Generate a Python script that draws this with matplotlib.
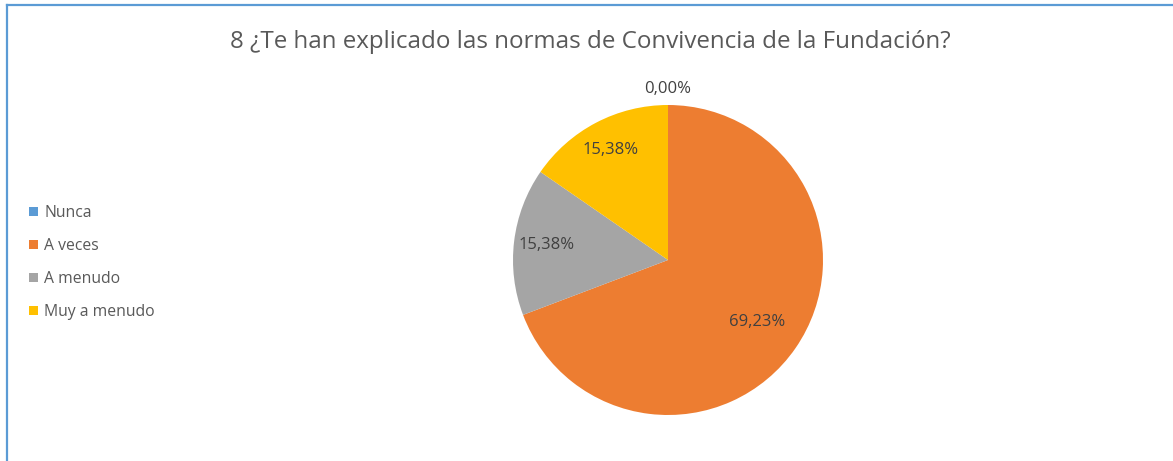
import numpy as np
import matplotlib.pyplot as plt
from matplotlib.lines import Line2D

plt.rcParams["font.family"] = ["Open Sans", "DejaVu Sans"]

categories = ["Nunca", "A veces", "A menudo", "Muy a menudo"]
values = [0.00, 69.23, 15.38, 15.38]
colors = ["#5B9BD5", "#ED7D31", "#A5A5A5", "#FFC000"]
title = "8 ¿Te han explicado las normas de Convivencia de la Fundación?"

W, H = 1173, 461
fig = plt.figure(figsize=(W / 100, H / 100), dpi=100)

# pie centered at (668, 260) px, radius 155 px
cx, cy, r = 668, 260, 155
ax = fig.add_axes([(cx - r) / W, (H - cy - r) / H, 2 * r / W, 2 * r / H])
wedges, _ = ax.pie(
    values,
    colors=colors,
    startangle=90,
    counterclock=False,
    radius=1,
    wedgeprops={"linewidth": 0},
)
ax.set_xlim(-1, 1)
ax.set_ylim(-1, 1)
ax.set_aspect("equal")
ax.axis("off")

# label distances roughly as in the original (best fit)
dists = [1.10, 0.70, 0.79, 0.80]
for w, v, d in zip(wedges, values, dists):
    ang = np.deg2rad((w.theta1 + w.theta2) / 2)
    ax.text(
        d * np.cos(ang),
        d * np.sin(ang),
        f"{v:.2f}%".replace(".", ","),
        ha="center",
        va="center",
        fontsize=12,
        color="#404040",
        clip_on=False,
    )

fig.text(590 / W, 1 - 42 / H, title, ha="center", va="center",
         fontsize=17.4, color="#595959")

leg = fig.legend(
    wedges,
    categories,
    loc="upper left",
    bbox_to_anchor=(15 / W, 1 - 191 / H),
    frameon=False,
    fontsize=11.3,
    handlelength=0.55,
    handleheight=0.55,
    handletextpad=0.4,
    labelspacing=1.08,
    labelcolor="#595959",
)

# chart border (blue, left and top visible)
fig.add_artist(Line2D([6.5 / W, 6.5 / W], [0, 1 - 5.5 / H], color="#5B9BD5",
                      linewidth=1.6, transform=fig.transFigure))
fig.add_artist(Line2D([6.5 / W, 1], [1 - 5.5 / H, 1 - 5.5 / H], color="#5B9BD5",
                      linewidth=1.6, transform=fig.transFigure))

fig.savefig("out.png", dpi=100)
